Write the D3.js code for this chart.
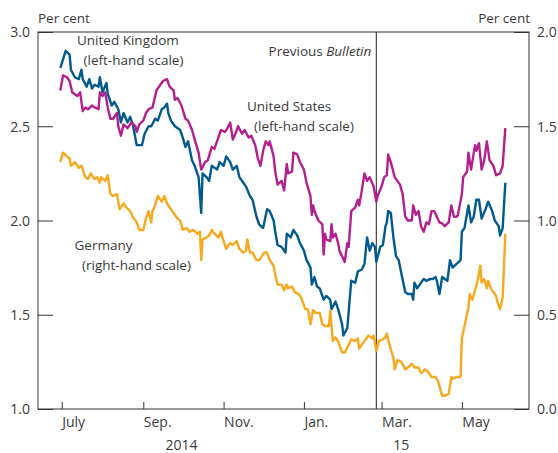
<!DOCTYPE html>
<html>
<head>
<meta charset="utf-8">
<script src="https://cdn.jsdelivr.net/npm/d3@7"></script>
<style>
  body { margin: 0; background: #fff; }
  svg text { font-family: "Open Sans", sans-serif; fill: #3a3a3a; }
</style>
</head>
<body>
<svg id="chart" width="558" height="453"></svg>
<script>
// 10-year government bond yields, per cent
const ukDates = ['2014-06-30','2014-07-04','2014-07-07','2014-07-08','2014-07-11','2014-07-14','2014-07-16','2014-07-17','2014-07-20','2014-07-22','2014-07-24','2014-07-26','2014-07-29','2014-07-30','2014-08-01','2014-08-04','2014-08-05','2014-08-08','2014-08-10','2014-08-13','2014-08-15','2014-08-17','2014-08-20','2014-08-22','2014-08-24','2014-08-27','2014-08-31','2014-09-02','2014-09-05','2014-09-07','2014-09-10','2014-09-12','2014-09-15','2014-09-17','2014-09-19','2014-09-20','2014-09-22','2014-09-25','2014-09-29','2014-10-01','2014-10-03','2014-10-05','2014-10-08','2014-10-10','2014-10-13','2014-10-15','2014-10-16','2014-10-19','2014-10-21','2014-10-23','2014-10-27','2014-10-29','2014-11-01','2014-11-03','2014-11-06','2014-11-08','2014-11-11','2014-11-13','2014-11-16','2014-11-18','2014-11-21','2014-11-23','2014-11-26','2014-11-28','2014-12-01','2014-12-04','2014-12-06','2014-12-09','2014-12-10','2014-12-12','2014-12-15','2014-12-18','2014-12-19','2014-12-22','2014-12-24','2014-12-27','2014-12-29','2015-01-01','2015-01-03','2015-01-06','2015-01-07','2015-01-09','2015-01-11','2015-01-13','2015-01-15','2015-01-16','2015-01-18','2015-01-21','2015-01-22','2015-01-25','2015-01-27','2015-01-30','2015-01-31','2015-02-03','2015-02-05','2015-02-06','2015-02-09','2015-02-11','2015-02-14','2015-02-16','2015-02-18','2015-02-20','2015-02-22','2015-02-24','2015-02-25','2015-02-28','2015-03-02','2015-03-04','2015-03-05','2015-03-06','2015-03-08','2015-03-10','2015-03-12','2015-03-14','2015-03-16','2015-03-19','2015-03-21','2015-03-24','2015-03-25','2015-03-26','2015-03-28','2015-03-30','2015-04-02','2015-04-04','2015-04-07','2015-04-09','2015-04-11','2015-04-12','2015-04-14','2015-04-16','2015-04-18','2015-04-20','2015-04-22','2015-04-24','2015-04-27','2015-04-30','2015-05-01','2015-05-03','2015-05-06','2015-05-08','2015-05-10','2015-05-12','2015-05-14','2015-05-16','2015-05-19','2015-05-21','2015-05-24','2015-05-26','2015-05-29','2015-05-30','2015-06-01','2015-06-03'];
const ukYield = [2.81,2.90,2.88,2.80,2.76,2.75,2.80,2.75,2.71,2.75,2.70,2.72,2.71,2.76,2.68,2.73,2.67,2.61,2.63,2.59,2.52,2.57,2.52,2.55,2.51,2.40,2.40,2.46,2.50,2.50,2.54,2.53,2.59,2.60,2.62,2.57,2.53,2.50,2.48,2.44,2.39,2.42,2.32,2.29,2.23,2.04,2.25,2.23,2.21,2.29,2.27,2.31,2.29,2.34,2.31,2.27,2.29,2.23,2.20,2.18,2.13,2.11,2.02,1.98,1.96,2.06,2.05,2.00,1.95,1.87,1.86,1.83,1.93,1.91,1.95,1.92,1.88,1.84,1.79,1.75,1.66,1.70,1.65,1.64,1.60,1.58,1.60,1.58,1.53,1.57,1.53,1.45,1.39,1.43,1.60,1.68,1.67,1.73,1.74,1.77,1.91,1.84,1.88,1.86,1.78,1.86,1.87,1.97,1.99,2.05,2.04,1.91,1.81,1.79,1.72,1.62,1.61,1.61,1.58,1.67,1.64,1.66,1.69,1.68,1.69,1.69,1.70,1.68,1.61,1.70,1.69,1.68,1.79,1.75,1.77,1.79,1.94,1.96,2.08,1.99,2.02,2.11,2.11,2.01,2.06,2.10,2.05,2.00,1.97,1.92,1.96,2.20];

const usDates = ['2014-06-30','2014-07-02','2014-07-05','2014-07-07','2014-07-09','2014-07-11','2014-07-13','2014-07-15','2014-07-17','2014-07-19','2014-07-21','2014-07-24','2014-07-26','2014-07-29','2014-07-30','2014-08-01','2014-08-03','2014-08-05','2014-08-07','2014-08-09','2014-08-12','2014-08-13','2014-08-15','2014-08-17','2014-08-20','2014-08-23','2014-08-26','2014-08-27','2014-08-29','2014-09-01','2014-09-03','2014-09-05','2014-09-08','2014-09-11','2014-09-14','2014-09-16','2014-09-19','2014-09-21','2014-09-24','2014-09-25','2014-09-27','2014-09-30','2014-10-03','2014-10-05','2014-10-08','2014-10-10','2014-10-13','2014-10-15','2014-10-18','2014-10-20','2014-10-23','2014-10-25','2014-10-28','2014-10-30','2014-11-02','2014-11-04','2014-11-06','2014-11-08','2014-11-10','2014-11-12','2014-11-15','2014-11-17','2014-11-20','2014-11-22','2014-11-25','2014-11-27','2014-11-29','2014-12-01','2014-12-03','2014-12-05','2014-12-06','2014-12-09','2014-12-10','2014-12-12','2014-12-15','2014-12-17','2014-12-19','2014-12-20','2014-12-23','2014-12-24','2014-12-27','2014-12-29','2015-01-01','2015-01-03','2015-01-06','2015-01-07','2015-01-08','2015-01-09','2015-01-12','2015-01-15','2015-01-16','2015-01-17','2015-01-18','2015-01-21','2015-01-22','2015-01-23','2015-01-25','2015-01-27','2015-01-28','2015-01-30','2015-02-01','2015-02-03','2015-02-04','2015-02-06','2015-02-09','2015-02-11','2015-02-12','2015-02-14','2015-02-16','2015-02-18','2015-02-20','2015-02-23','2015-02-25','2015-02-26','2015-03-01','2015-03-03','2015-03-05','2015-03-06','2015-03-08','2015-03-11','2015-03-13','2015-03-15','2015-03-17','2015-03-19','2015-03-21','2015-03-24','2015-03-25','2015-03-27','2015-03-29','2015-03-31','2015-04-02','2015-04-04','2015-04-06','2015-04-08','2015-04-10','2015-04-12','2015-04-14','2015-04-16','2015-04-18','2015-04-21','2015-04-23','2015-04-25','2015-04-27','2015-04-28','2015-05-01','2015-05-02','2015-05-05','2015-05-06','2015-05-08','2015-05-11','2015-05-12','2015-05-14','2015-05-16','2015-05-18','2015-05-20','2015-05-22','2015-05-25','2015-05-27','2015-05-30','2015-06-01','2015-06-03'];
const usYield = [2.69,2.77,2.76,2.74,2.68,2.67,2.66,2.68,2.58,2.60,2.59,2.61,2.60,2.59,2.68,2.66,2.68,2.60,2.54,2.54,2.57,2.50,2.45,2.51,2.49,2.52,2.50,2.47,2.51,2.53,2.57,2.59,2.60,2.69,2.72,2.74,2.75,2.71,2.69,2.64,2.65,2.61,2.54,2.53,2.48,2.43,2.36,2.27,2.31,2.32,2.39,2.38,2.44,2.48,2.47,2.49,2.52,2.43,2.46,2.50,2.46,2.48,2.44,2.45,2.40,2.33,2.29,2.37,2.42,2.40,2.42,2.34,2.27,2.19,2.21,2.16,2.30,2.25,2.26,2.36,2.35,2.31,2.27,2.20,2.13,2.03,2.08,2.05,2.00,1.98,1.82,1.93,1.90,1.89,1.98,1.91,1.93,1.88,1.84,1.81,1.78,1.88,1.86,2.05,2.07,2.11,2.08,2.16,2.25,2.21,2.23,2.18,2.10,2.13,2.18,2.23,2.24,2.35,2.31,2.23,2.21,2.19,2.14,2.02,2.00,2.00,2.08,2.03,2.05,1.97,1.94,1.99,1.98,2.05,2.05,2.02,1.99,1.985,1.97,1.99,2.08,2.02,2.02,2.03,2.14,2.23,2.26,2.36,2.27,2.40,2.37,2.41,2.27,2.32,2.42,2.32,2.29,2.24,2.25,2.29,2.49];

const deDates = ['2014-06-30','2014-07-02','2014-07-05','2014-07-07','2014-07-08','2014-07-11','2014-07-14','2014-07-16','2014-07-19','2014-07-21','2014-07-23','2014-07-26','2014-07-28','2014-07-30','2014-07-31','2014-08-03','2014-08-05','2014-08-07','2014-08-09','2014-08-12','2014-08-14','2014-08-17','2014-08-19','2014-08-22','2014-08-24','2014-08-27','2014-08-29','2014-09-01','2014-09-03','2014-09-05','2014-09-07','2014-09-08','2014-09-10','2014-09-12','2014-09-15','2014-09-17','2014-09-19','2014-09-22','2014-09-24','2014-09-27','2014-09-29','2014-10-01','2014-10-04','2014-10-06','2014-10-09','2014-10-12','2014-10-14','2014-10-15','2014-10-16','2014-10-19','2014-10-21','2014-10-23','2014-10-25','2014-10-28','2014-10-30','2014-11-01','2014-11-03','2014-11-06','2014-11-08','2014-11-11','2014-11-13','2014-11-16','2014-11-18','2014-11-19','2014-11-21','2014-11-23','2014-11-26','2014-11-28','2014-11-30','2014-12-02','2014-12-04','2014-12-06','2014-12-09','2014-12-10','2014-12-12','2014-12-15','2014-12-17','2014-12-19','2014-12-20','2014-12-23','2014-12-25','2014-12-28','2014-12-30','2015-01-02','2015-01-04','2015-01-06','2015-01-08','2015-01-10','2015-01-13','2015-01-15','2015-01-17','2015-01-20','2015-01-21','2015-01-23','2015-01-25','2015-01-27','2015-01-30','2015-02-01','2015-02-04','2015-02-06','2015-02-09','2015-02-11','2015-02-12','2015-02-14','2015-02-16','2015-02-19','2015-02-22','2015-02-23','2015-02-25','2015-02-27','2015-03-02','2015-03-04','2015-03-05','2015-03-07','2015-03-10','2015-03-11','2015-03-13','2015-03-16','2015-03-19','2015-03-21','2015-03-24','2015-03-26','2015-03-29','2015-03-31','2015-04-03','2015-04-05','2015-04-08','2015-04-11','2015-04-13','2015-04-16','2015-04-18','2015-04-21','2015-04-23','2015-04-24','2015-04-27','2015-04-30','2015-05-01','2015-05-03','2015-05-06','2015-05-07','2015-05-09','2015-05-11','2015-05-13','2015-05-15','2015-05-16','2015-05-18','2015-05-20','2015-05-21','2015-05-23','2015-05-25','2015-05-27','2015-05-28','2015-05-30','2015-06-01','2015-06-03'];
const deYield = [1.31,1.36,1.34,1.33,1.29,1.31,1.28,1.29,1.23,1.22,1.25,1.22,1.23,1.20,1.23,1.21,1.24,1.14,1.13,1.14,1.06,1.09,1.07,1.05,1.02,0.99,0.95,0.95,1.01,1.05,0.99,1.05,1.08,1.13,1.10,1.13,1.09,1.06,1.04,1.01,1.00,0.95,0.96,0.94,0.95,0.93,0.94,0.79,0.90,0.91,0.92,0.95,0.93,0.91,0.94,0.89,0.85,0.88,0.87,0.89,0.85,0.83,0.84,0.90,0.83,0.83,0.79,0.79,0.81,0.83,0.83,0.79,0.76,0.72,0.66,0.66,0.63,0.66,0.64,0.65,0.62,0.61,0.59,0.53,0.53,0.45,0.525,0.51,0.51,0.45,0.44,0.44,0.52,0.36,0.38,0.36,0.30,0.30,0.34,0.37,0.36,0.375,0.32,0.34,0.36,0.39,0.375,0.39,0.31,0.36,0.37,0.38,0.40,0.34,0.27,0.21,0.26,0.25,0.21,0.22,0.24,0.22,0.22,0.19,0.21,0.20,0.17,0.17,0.145,0.07,0.07,0.08,0.17,0.16,0.17,0.17,0.375,0.44,0.54,0.61,0.58,0.63,0.68,0.76,0.67,0.69,0.64,0.68,0.64,0.62,0.60,0.57,0.53,0.59,0.93];

const monthTicks = ['2014-07-01','2014-09-01','2014-11-01','2015-01-01','2015-03-01','2015-05-01'];
const monthLabels = ['July','Sep.','Nov.','Jan.','Mar.','May'];
const yearLabels = ['2014','15'];
const yearDates = ['2014-09-30','2015-03-16'];
const leftTicks = [1.0, 1.5, 2.0, 2.5, 3.0];
const rightTicks = [0.0, 0.5, 1.0, 1.5, 2.0];
const previousBulletin = '2015-02-25';

const parse = d3.utcParse('%Y-%m-%d');
const margin = {top: 32, right: 29, bottom: 44, left: 38};
const width = 558 - margin.left - margin.right;
const height = 453 - margin.top - margin.bottom;

const svg = d3.select('#chart');
const g = svg.append('g').attr('transform', 'translate(' + margin.left + ',' + margin.top + ')');

const x = d3.scaleUtc()
    .domain([parse('2014-06-13'), parse('2015-06-21')])
    .range([0, width]);
const yLeft = d3.scaleLinear().domain([1, 3]).range([height, 0]);
const yRight = d3.scaleLinear().domain([0, 2]).range([height, 0]);

// axes (ticks point inwards)
const leftAxis = g.append('g')
    .call(d3.axisLeft(yLeft).tickValues(leftTicks).tickSize(-15).tickSizeOuter(0)
        .tickPadding(8).tickFormat(d3.format('.1f')));
const rightAxis = g.append('g')
    .attr('transform', 'translate(' + width + ',0)')
    .call(d3.axisRight(yRight).tickValues(rightTicks).tickSize(-15).tickSizeOuter(0)
        .tickPadding(8).tickFormat(d3.format('.1f')));
const bottomAxis = g.append('g')
    .attr('transform', 'translate(0,' + height + ')')
    .call(d3.axisBottom(x).tickValues(monthTicks.map(parse)).tickSize(-7).tickSizeOuter(0)
        .tickFormat((d, i) => monthLabels[i]));

[leftAxis, rightAxis, bottomAxis].forEach(a => {
    a.select('.domain').remove();
    a.selectAll('line').attr('stroke', '#333').attr('stroke-width', 1);
    a.selectAll('text').attr('font-family', '"Open Sans", sans-serif').attr('font-size', 14).attr('fill', '#3a3a3a');
});
leftAxis.selectAll('text').attr('dy', '0.34em');
rightAxis.selectAll('text').attr('dy', '0.34em');
bottomAxis.selectAll('text').attr('text-anchor', 'start').attr('y', 18).attr('dy', 0);

g.selectAll('.year')
    .data(yearLabels)
    .enter().append('text')
    .attr('x', (d, i) => x(parse(yearDates[i])))
    .attr('y', height + 41)
    .attr('text-anchor', 'middle')
    .attr('font-size', 14)
    .text(d => d);

// frame
g.append('rect')
    .attr('width', width).attr('height', height)
    .attr('fill', 'none').attr('stroke', '#333').attr('stroke-width', 1);

g.append('text').attr('x', 0).attr('y', -9).attr('font-size', 13.5).text('Per cent');
g.append('text').attr('x', width + 1).attr('y', -9).attr('text-anchor', 'end').attr('font-size', 13.5).text('Per cent');

// previous Bulletin marker
const pb = x(parse(previousBulletin));
g.append('line')
    .attr('x1', pb).attr('x2', pb).attr('y1', 0).attr('y2', height)
    .attr('stroke', '#222').attr('stroke-width', 1);
const pbText = g.append('text')
    .attr('x', pb - 5).attr('y', 24)
    .attr('text-anchor', 'end').attr('font-size', 13.5);
pbText.append('tspan').text('Previous ');
pbText.append('tspan').attr('font-style', 'italic').text('Bulletin');

// series
const series = [
    {dates: ukDates, values: ukYield, y: yLeft, color: '#005a8d'},
    {dates: usDates, values: usYield, y: yLeft, color: '#b31f8e'},
    {dates: deDates, values: deYield, y: yRight, color: '#f8a81c'}
];
series.forEach(s => {
    const line = d3.line()
        .x((d, i) => x(parse(s.dates[i])))
        .y(d => s.y(d));
    g.append('path')
        .datum(s.values)
        .attr('fill', 'none')
        .attr('stroke', s.color)
        .attr('stroke-width', 2.4)
        .attr('stroke-linejoin', 'round')
        .attr('d', line);
});

// series labels
function label(lines, px, py) {
    const t = g.append('text').attr('font-size', 13.5);
    lines.forEach((l, i) => {
        t.append('tspan').attr('x', px[i]).attr('y', py + i * 19.5).text(l);
    });
}
label(['United Kingdom', '(left-hand scale)'], [39, 45.5], 13);
label(['United States', '(left-hand scale)'], [209, 216], 79);
label(['Germany', '(right-hand scale)'], [36.5, 44], 218);
</script>
</body>
</html>
